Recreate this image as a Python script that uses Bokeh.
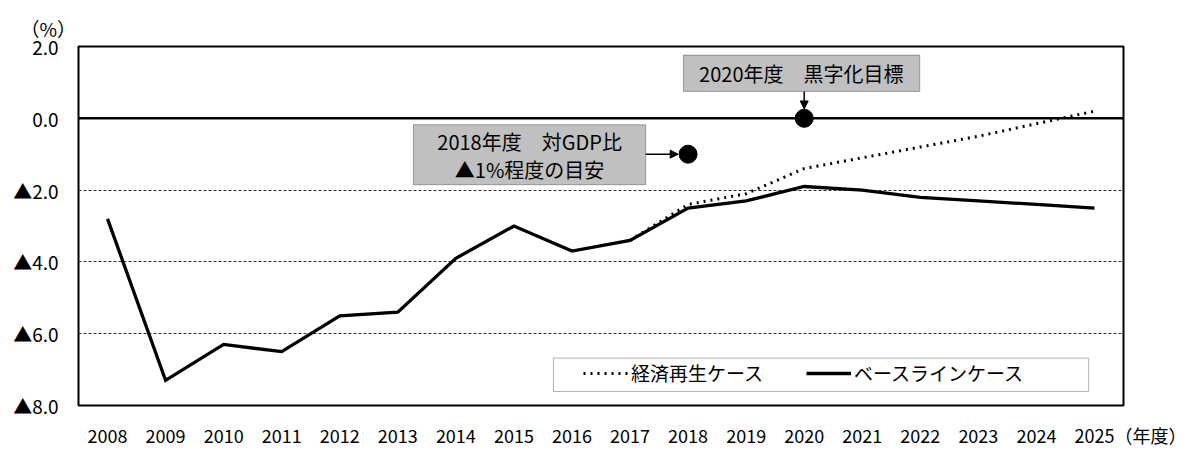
from bokeh.plotting import figure
from bokeh.models import (Range1d, FixedTicker, Span, BoxAnnotation, Label, Arrow,
                          NormalHead, Legend, LegendItem, Title)
from bokeh.embed import file_html
from bokeh.resources import INLINE

# ---- data ----
years = list(range(2008, 2026))
baseline = [-2.8, -7.3, -6.3, -6.5, -5.5, -5.4, -3.9, -3.0, -3.7, -3.4,
            -2.5, -2.3, -1.9, -2.0, -2.2, -2.3, -2.4, -2.5]
revival_years = list(range(2017, 2026))
revival = [-3.4, -2.4, -2.1, -1.4, -1.1, -0.8, -0.5, -0.15, 0.2]
target_years = [2018, 2020]
target_values = [-1.0, 0.0]
y_ticks = [-8, -6, -4, -2, 0, 2]
y_tick_labels = ["▲8.0", "▲6.0", "▲4.0", "▲2.0", "0.0", "2.0"]
x_tick_labels = [str(y) for y in years]
x_unit = "（年度）"
y_unit = "（%）"
series_names = ["経済再生ケース", "ベースラインケース"]
note_2020 = "2020年度　黒字化目標"
note_2018 = ["2018年度　対GDP比", "▲1%程度の目安"]

FONT = "Noto Sans CJK JP"

# last x label carries the unit; pad on the left so the year stays centred on its tick
x_labels = list(x_tick_labels)
x_labels[-1] = "　" * len(x_unit) + x_labels[-1] + x_unit

p = figure(width=1189, height=450, output_backend="svg", toolbar_location=None,
           x_range=Range1d(2007.5, 2025.5), y_range=Range1d(-8, 2),
           min_border_left=78, min_border_right=66, min_border_top=46, min_border_bottom=39)
p.background_fill_color = "white"
p.border_fill_color = "white"
p.outline_line_color = "black"
p.outline_line_width = 2

p.add_layout(Title(text=y_unit, align="left", offset=-58, standoff=10,
                   text_font=FONT, text_font_size="19px", text_font_style="normal",
                   text_color="black"), "above")

# axes
p.xaxis.ticker = FixedTicker(ticks=years)
p.xaxis.major_label_overrides = {y: l for y, l in zip(years, x_labels)}
p.yaxis.ticker = FixedTicker(ticks=y_ticks)
p.yaxis.major_label_overrides = {t: l for t, l in zip(y_ticks, y_tick_labels)}
for ax in (p.xaxis, p.yaxis):
    ax.axis_line_color = None
    ax.major_tick_line_color = None
    ax.minor_tick_line_color = None
    ax.major_label_text_font = FONT
    ax.major_label_text_color = "black"
p.xaxis.major_label_text_font_size = "18px"
p.yaxis.major_label_text_font_size = "19px"
p.xaxis.major_label_standoff = 10
p.yaxis.major_label_standoff = 14

p.xgrid.grid_line_color = None
p.ygrid.ticker = FixedTicker(ticks=[-8, -6, -4, -2])
p.ygrid.grid_line_color = "#333333"
p.ygrid.grid_line_width = 1
p.ygrid.grid_line_dash = "3 2"

p.add_layout(Span(location=0, dimension="width", line_color="black", line_width=2.5))

# series
r1 = p.line(revival_years, revival, line_color="black", line_width=3, line_dash="2 5")
r2 = p.line(years, baseline, line_color="black", line_width=3.3, line_join="miter")
p.scatter(target_years, target_values, size=18, color="black")

# annotation boxes
p.add_layout(BoxAnnotation(left=2017.92, right=2021.99, bottom=0.75, top=1.76,
                           fill_color="#c0c0c0", fill_alpha=1, line_color="black", line_width=1))
p.add_layout(BoxAnnotation(left=2013.27, right=2017.27, bottom=-1.85, top=-0.18,
                           fill_color="#c0c0c0", fill_alpha=1, line_color="black", line_width=1))
p.add_layout(Label(x=2019.95, y=1.25, text=note_2020, text_align="center", text_baseline="middle",
                   text_font=FONT, text_font_size="20px", text_color="black"))
p.add_layout(Label(x=2015.27, y=-0.65, text=note_2018[0], text_align="center", text_baseline="middle",
                   text_font=FONT, text_font_size="20px", text_color="black"))
p.add_layout(Label(x=2015.27, y=-1.44, text=note_2018[1], text_align="center", text_baseline="middle",
                   text_font=FONT, text_font_size="20px", text_color="black"))

p.add_layout(Arrow(end=NormalHead(size=8, fill_color="black", line_color="black"),
                   x_start=2020, y_start=0.75, x_end=2020, y_end=0.26,
                   line_color="black", line_width=1.5))
p.add_layout(Arrow(end=NormalHead(size=8, fill_color="black", line_color="black"),
                   x_start=2017.27, y_start=-1.0, x_end=2017.83, y_end=-1.0,
                   line_color="black", line_width=1.5))

# legend
p.add_layout(BoxAnnotation(left=2015.68, right=2024.90, bottom=-7.61, top=-6.68,
                           fill_color="white", fill_alpha=1, line_color="black", line_width=1))
legend = Legend(items=[LegendItem(label=series_names[0], renderers=[r1]),
                       LegendItem(label=series_names[1], renderers=[r2])],
                orientation="horizontal", location=(505, 19), margin=0, padding=0,
                border_line_alpha=0, background_fill_alpha=0, spacing=30,
                glyph_width=45, label_standoff=3, label_width=145,
                label_text_font=FONT, label_text_font_size="19px", label_text_color="black")
p.add_layout(legend)

open("out.html", "w").write(file_html(p, INLINE))
